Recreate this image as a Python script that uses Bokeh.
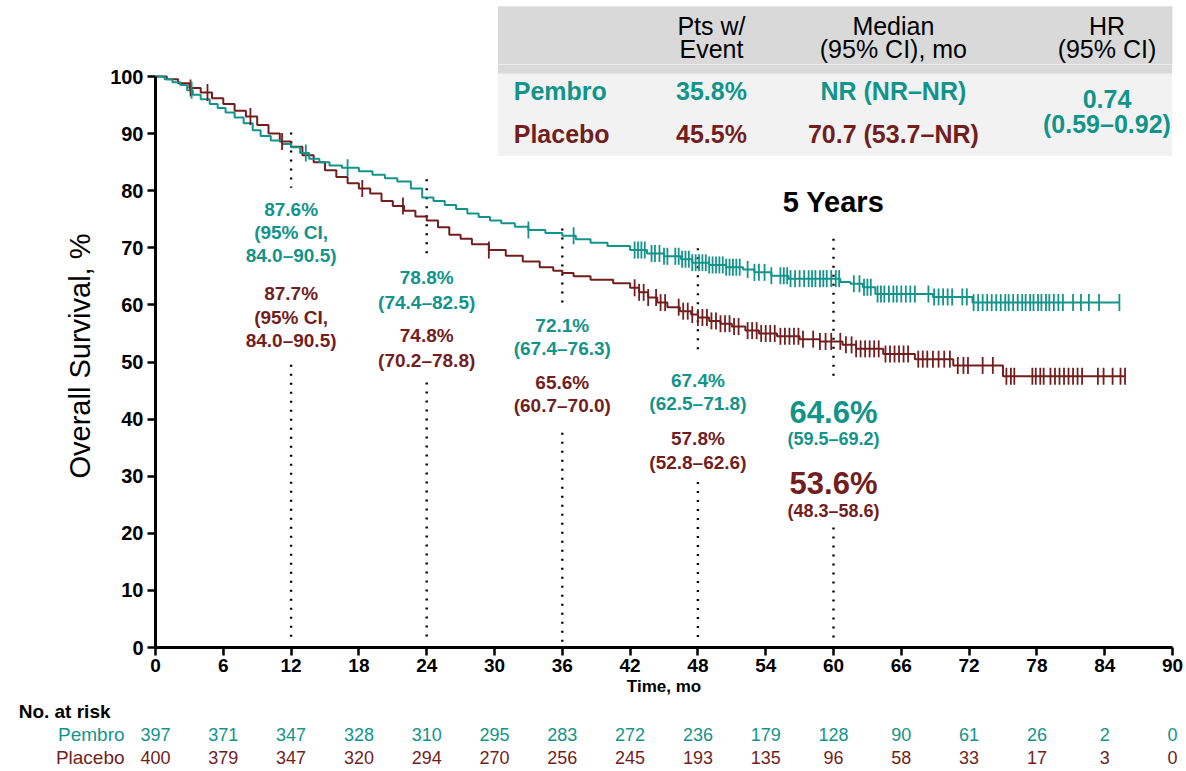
import numpy as np
from bokeh.plotting import figure
from bokeh.layouts import column
from bokeh.models import Range1d, FixedTicker
from bokeh.core.properties import value
from bokeh.embed import file_html
from bokeh.resources import INLINE

# ---------------- data ----------------
# Kaplan-Meier estimates: survival (%) from each time (months) onward
pembro_t = [0, 0.8, 1.5, 2.2, 2.8, 3.3, 4.0, 4.8, 5.5, 6.2, 7.0, 7.8, 8.6, 9.3, 10.2,
            11.2, 12.0, 12.8, 13.6, 14.5, 15.4, 16.5, 18.0, 19.2, 20.3, 21.4, 22.6,
            23.6, 24.6, 25.6, 26.6, 27.6, 28.6, 29.6, 30.6, 31.8, 33.0, 34.5, 36.0,
            37.2, 38.5, 40.0, 42.0, 43.5, 45.0, 46.5, 47.5, 49.0, 50.5, 52.0, 53.0,
            54.5, 56.0, 60.6, 61.5, 62.6, 63.7, 68.8, 72.3]
pembro_s = [100, 99.5, 99.0, 98.5, 97.6, 96.8, 96.0, 95.2, 94.5, 93.7, 92.8, 91.8,
            90.6, 89.6, 88.8, 88.2, 87.6, 86.6, 85.6, 85.0, 84.4, 84.0, 83.4, 82.8,
            82.2, 81.6, 80.4, 78.8, 78.2, 77.5, 76.8, 76.0, 75.4, 74.8, 74.3, 73.7,
            73.1, 72.6, 72.1, 71.5, 70.9, 70.3, 69.6, 69.0, 68.5, 68.0, 67.4, 67.0,
            66.6, 66.2, 65.7, 65.1, 64.6, 64.0, 63.7, 63.1, 61.9, 61.4, 60.4]
pembro_last = 85.3

placebo_t = [0, 1.0, 2.0, 3.0, 4.0, 5.0, 6.0, 7.0, 8.0, 9.0, 10.0, 11.0, 12.0, 13.0,
             14.0, 15.0, 16.0, 17.0, 18.0, 19.0, 20.0, 21.0, 22.0, 23.0, 24.0, 25.0,
             26.0, 27.0, 28.0, 29.5, 31.0, 32.5, 34.0, 35.2, 36.0, 37.0, 38.5, 40.5,
             42.0, 42.8, 43.6, 44.4, 45.3, 46.4, 47.4, 48.0, 49.0, 50.0, 51.0, 52.2,
             53.4, 55.0, 57.0, 58.8, 60.8, 62.0, 64.4, 67.2, 70.6, 75.0]
placebo_s = [100, 99.5, 98.8, 98.0, 97.2, 96.2, 95.2, 94.0, 93.0, 91.5, 90.0, 88.6,
             87.7, 86.2, 85.0, 83.6, 82.4, 81.3, 80.4, 79.5, 78.2, 77.3, 76.5, 75.5,
             74.8, 73.6, 72.3, 71.6, 70.6, 69.6, 68.6, 67.6, 66.6, 66.0, 65.6, 65.0,
             64.4, 63.8, 63.0, 62.2, 61.3, 60.4, 59.6, 58.9, 58.3, 57.8, 57.2, 56.7,
             56.2, 55.5, 55.0, 54.5, 54.0, 53.6, 53.0, 52.3, 51.4, 50.5, 49.4, 47.5]
placebo_last = 85.8

# censoring times (months)
pembro_cens = [3.2, 13.3, 17.0, 33.0, 37.0,
               42.4, 42.7, 43.0, 43.3, 43.9, 44.2, 44.6, 45.0, 45.3, 46.0, 46.3, 46.6,
               46.9, 47.2, 47.5, 47.8, 48.1, 48.4, 48.7, 49.0, 49.3, 49.6, 49.9, 50.2,
               50.5, 50.8, 51.1, 51.4, 51.7, 52.4, 53.0, 53.4, 53.9, 54.5, 55.3, 55.6,
               55.9, 56.2, 56.6, 57.0, 57.4, 57.8, 58.1, 58.4, 58.8, 59.1, 59.4, 59.8,
               60.2, 60.5, 61.8, 62.3, 62.7, 63.0, 63.3, 63.9, 64.2, 64.5, 64.9, 65.3,
               65.6, 66.0, 66.4, 66.8, 67.2, 68.4, 68.9, 69.3, 69.7, 70.1, 70.5, 71.4,
               71.8, 72.4, 72.8, 73.2, 73.6, 74.0, 74.4, 74.8, 75.2, 75.5, 75.9, 76.3,
               76.7, 77.0, 77.4, 77.7, 78.1, 78.4, 78.8, 79.1, 79.5, 79.9, 80.3, 81.2,
               81.9, 82.6, 83.5, 85.3]
placebo_cens = [3.1, 4.6, 8.4, 11.2, 18.3, 21.9, 29.5,
                42.4, 42.8, 43.2, 43.6, 44.3, 44.7, 45.1, 46.3, 46.7, 47.1, 47.5, 48.0,
                48.4, 48.8, 49.2, 49.6, 50.0, 50.4, 50.8, 51.2, 51.6, 52.4, 52.8, 53.2,
                53.6, 54.0, 54.4, 54.8, 55.3, 55.7, 56.1, 56.5, 56.9, 57.3, 58.2, 58.8,
                59.3, 59.8, 60.6, 61.1, 61.6, 62.0, 62.4, 62.8, 63.2, 63.6, 64.0, 64.6,
                65.0, 65.4, 65.8, 66.2, 66.6, 67.5, 67.9, 68.3, 68.8, 69.3, 69.8, 70.3,
                71.0, 71.5, 71.9, 73.2, 74.1, 75.3, 75.7, 76.0, 77.6, 77.9, 78.3, 78.6,
                79.2, 79.6, 80.0, 80.4, 80.8, 81.2, 81.6, 82.0, 83.4, 83.9, 84.7, 85.4,
                85.8]

# landmark OS rates
milestones = [12, 24, 36, 48, 60]
pembro_rate = [87.6, 78.8, 72.1, 67.4, 64.6]
pembro_ci = ["84.0–90.5", "74.4–82.5", "67.4–76.3", "62.5–71.8", "59.5–69.2"]
placebo_rate = [87.7, 74.8, 65.6, 57.8, 53.6]
placebo_ci = ["84.0–90.5", "70.2–78.8", "60.7–70.0", "52.8–62.6", "48.3–58.6"]

# number at risk
risk_times = [0, 6, 12, 18, 24, 30, 36, 42, 48, 54, 60, 66, 72, 78, 84, 90]
pembro_risk = [397, 371, 347, 328, 310, 295, 283, 272, 236, 179, 128, 90, 61, 26, 2, 0]
placebo_risk = [400, 379, 347, 320, 294, 270, 256, 245, 193, 135, 96, 58, 33, 17, 3, 0]

# summary table
arms = ["Pembro", "Placebo"]
pts_with_event = ["35.8%", "45.5%"]
median_os = ["NR (NR–NR)", "70.7 (53.7–NR)"]
hazard_ratio = "0.74"
hazard_ratio_ci = "(0.59–0.92)"

# ---------------- layout & styling ----------------
TEAL = "#12948a"
MAROON = "#721e1e"
FONT = "Liberation Sans"

W, H = 1186, 771
LEFT, RIGHT = 155, 14            # frame edges measured from the page sides
X_MAX = 90
PX_PER_MO = (W - LEFT - RIGHT) / X_MAX
PX_PER_PCT = 5.71
TOP_H = 64                       # strip above the plot frame (table header)
FRAME_H = 583                    # plot frame height
BOTTOM = 53                      # x-axis ticks and title
RISK_H = H - TOP_H - FRAME_H - BOTTOM
Y_SPLIT = FRAME_H / PX_PER_PCT   # % value at the top edge of the plot frame
Y_TOP = Y_SPLIT + TOP_H / PX_PER_PCT
FULL_X = Range1d(-LEFT / PX_PER_MO, X_MAX + RIGHT / PX_PER_MO)


def bare_figure(height, y_range):
    f = figure(width=W, height=height, output_backend="svg", toolbar_location=None,
               x_range=FULL_X, y_range=y_range, x_axis_type=None, y_axis_type=None,
               min_border=0)
    f.outline_line_color = None
    f.grid.visible = False
    f.frame_align = False
    return f


def txt(fig, x, y, text, color, size, bold=True, align="center"):
    fig.text(x=[x], y=[y], text=[text], text_color=color,
             text_font=value(FONT), text_font_size=value(f"{size}px"),
             text_font_style="bold" if bold else "normal",
             text_align=align, text_baseline="middle")


def table_background(fig):
    fig.quad(left=[30.3, 30.3], right=[90, 90], bottom=[100.5, 86.1],
             top=[112.3, 100.5], fill_color=["#d9d9d9", "#f2f2f2"], line_color=None)


# ---- header strip of the summary table ----
top = bare_figure(TOP_H, Range1d(Y_SPLIT, Y_TOP))
table_background(top)
col_x = [49.2, 65.3, 84.2]
header = [("Pts w/", "Event"), ("Median", "(95% CI), mo"), ("HR", "(95% CI)")]
for cx, (l1, l2) in zip(col_x, header):
    txt(top, cx, 108.8, l1, "black", 25, bold=False)
    txt(top, cx, 104.9, l2, "black", 25, bold=False)

# ---- main survival plot ----
p = figure(width=W, height=FRAME_H + BOTTOM, output_backend="svg", toolbar_location=None,
           x_range=Range1d(0, X_MAX), y_range=Range1d(0, Y_SPLIT),
           min_border_left=LEFT, min_border_right=RIGHT, min_border_top=0,
           min_border_bottom=BOTTOM)
p.outline_line_color = None
p.grid.visible = False
p.frame_align = False

p.xaxis.ticker = FixedTicker(ticks=risk_times)
p.yaxis.ticker = FixedTicker(ticks=list(range(0, 101, 10)))
p.yaxis.bounds = (0, 100)
for ax in (p.xaxis[0], p.yaxis[0]):
    ax.axis_line_width = 3
    ax.axis_line_color = "black"
    ax.major_tick_line_width = 2.5
    ax.major_tick_line_color = "black"
    ax.major_tick_out = 8
    ax.major_tick_in = 0
    ax.minor_tick_line_color = None
    ax.major_label_text_color = "black"
    ax.major_label_text_font = FONT
    ax.major_label_text_font_style = "bold"
    ax.axis_label_text_color = "black"
    ax.axis_label_text_font = FONT

p.xaxis.major_label_text_font_size = "19px"
p.xaxis.major_label_standoff = 3
p.xaxis.axis_label = "Time, mo"
p.xaxis.axis_label_text_font_style = "bold"
p.xaxis.axis_label_text_font_size = "17px"
p.xaxis.axis_label_standoff = 2

p.yaxis.major_label_text_font_size = "20px"
p.yaxis.major_label_standoff = 4
p.yaxis.axis_label = "Overall Survival, %"
p.yaxis.axis_label_text_font_style = "normal"
p.yaxis.axis_label_text_font_size = "29px"
p.yaxis.axis_label_standoff = 11

table_background(p)

# landmark dotted guides
seg_top = [(90.2, 80.5), (82.0, 68.0), (73.4, 59.5), (69.9, 51.5), (71.6, 46.4)]
seg_low = [49.5, 46.4, 37.6, 29.0, 21.0]
x0, y0, y1 = [], [], []
for m, (a, b), c in zip(milestones, seg_top, seg_low):
    x0 += [m, m]
    y0 += [a, c]
    y1 += [b, 0.8]
p.segment(x0=x0, y0=y0, x1=x0, y1=y1, line_color="black", line_width=2.4,
          line_dash="2 7")


def km_line(t, s, last, color):
    xs = list(t) + [last]
    ys = list(s) + [s[-1]]
    p.step(x=xs, y=ys, mode="after", line_color=color, line_width=2)


def censor_marks(t, s, cens, color):
    idx = np.searchsorted(np.array(t), np.array(cens), side="right") - 1
    ys = np.array(s)[idx]
    p.scatter(x=cens, y=ys, marker="dash", angle=np.pi / 2, size=17,
              line_color=color, line_width=1.8)


km_line(placebo_t, placebo_s, placebo_last, MAROON)
km_line(pembro_t, pembro_s, pembro_last, TEAL)
censor_marks(placebo_t, placebo_s, placebo_cens, MAROON)
censor_marks(pembro_t, pembro_s, pembro_cens, TEAL)

# landmark labels
teal_y = [(76.7, 72.7, 68.65), (64.85, 60.47), (56.39, 52.31), (46.76, 42.68), (41.2, 36.55)]
mar_y = [(61.94, 57.85, 53.77), (54.64, 50.26), (46.46, 42.38), (36.55, 32.45), (28.67, 23.99)]
for i, m in enumerate(milestones):
    big = m == 60
    rsize = 31 if big else 19
    for rate, ci, ys, col in ((pembro_rate[i], pembro_ci[i], teal_y[i], TEAL),
                              (placebo_rate[i], placebo_ci[i], mar_y[i], MAROON)):
        txt(p, m, ys[0], f"{rate:.1f}%", col, rsize)
        if len(ys) == 3:
            txt(p, m, ys[1], "(95% CI,", col, 19)
            txt(p, m, ys[2], f"{ci})", col, 19)
        else:
            txt(p, m, ys[1], f"({ci})", col, 18 if big else 19)
txt(p, 60, 78.0, "5 Years", "black", 29)

# body rows of the summary table
row_y = [97.4, 90.0]
for arm, ev, med, ry, col in zip(arms, pts_with_event, median_os, row_y, (TEAL, MAROON)):
    txt(p, 31.7, ry, arm, col, 25, align="left")
    txt(p, col_x[0], ry, ev, col, 25)
    txt(p, col_x[1], ry, med, col, 25)
txt(p, col_x[2], 96.0, hazard_ratio, TEAL, 25)
txt(p, col_x[2], 91.7, hazard_ratio_ci, TEAL, 25)

# ---- number-at-risk table, on the same month scale ----
risk = bare_figure(RISK_H, Range1d(0, RISK_H))
txt(risk, -3.98, RISK_H - 11, "No. at risk", "black", 19, align="right")
for arm, counts, ry, col in zip(arms, (pembro_risk, placebo_risk),
                                (RISK_H - 34, RISK_H - 57), (TEAL, MAROON)):
    txt(risk, -2.74, ry, arm, col, 19, bold=False, align="right")
    risk.text(x=risk_times, y=[ry] * len(risk_times), text=[str(c) for c in counts],
              text_color=col, text_font=value(FONT), text_font_size=value("18px"),
              text_align="center", text_baseline="middle")

layout = column(top, p, risk, spacing=0)
open("out.html", "w").write(file_html(layout, INLINE))
